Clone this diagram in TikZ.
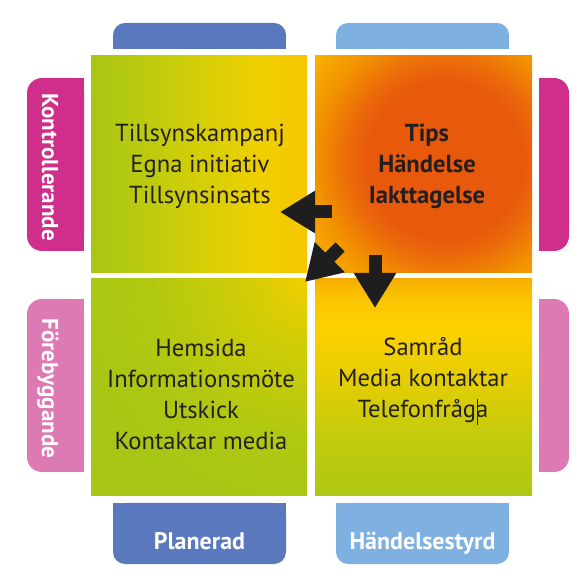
\documentclass[tikz,border=0pt]{standalone}
\usepackage{fontspec}
\setmainfont{PT Sans}
\usetikzlibrary{arrows.meta}
\definecolor{ink}{HTML}{231F20}
\definecolor{arrC}{HTML}{1E1E1E}
\definecolor{planC}{HTML}{5A78BD}
\definecolor{handC}{HTML}{7EB1E1}
\definecolor{kontC}{HTML}{CF2E8B}
\definecolor{foreC}{HTML}{DD7AB3}
\definecolor{gA}{HTML}{A8C614}
\definecolor{gB}{HTML}{BDCB0E}
\definecolor{gC}{HTML}{D4CE07}
\definecolor{yA}{HTML}{EFCF00}
\definecolor{yB}{HTML}{F7C600}
\definecolor{oA}{HTML}{E8590C}
\definecolor{oB}{HTML}{EB6A0A}
\definecolor{oC}{HTML}{F29300}
\definecolor{oD}{HTML}{F7B600}
\definecolor{oE}{HTML}{F8BE00}
\definecolor{yC}{HTML}{FDD000}
\definecolor{yD}{HTML}{F6AE00}
\definecolor{yE}{HTML}{FBC600}
\definecolor{gD}{HTML}{E4CE03}
\definecolor{gE}{HTML}{C6CB0B}
\definecolor{gF}{HTML}{AEC812}
\definecolor{yF}{HTML}{F2CE00}
\definecolor{gG}{HTML}{D0CD06}
\definecolor{gH}{HTML}{B0C811}
\pgfdeclarehorizontalshading{tlsh}{100bp}{color(0bp)=(gA); color(25bp)=(gA); color(38.5bp)=(gB); color(50bp)=(gC); color(64bp)=(yA); color(75bp)=(yB); color(100bp)=(yB)}
\pgfdeclareradialshading{trsh}{\pgfpointorigin}{color(0bp)=(oA); color(9.8bp)=(oA); color(12.2bp)=(oB); color(16.25bp)=(oC); color(21.25bp)=(oD); color(25bp)=(oE); color(50bp)=(oE)}
\pgfdeclareverticalshading{brsh}{100bp}{color(0bp)=(gF); color(25bp)=(gF); color(40.2bp)=(gE); color(51.8bp)=(gD); color(63.3bp)=(yC); color(70.2bp)=(yE); color(75bp)=(yD); color(100bp)=(yD)}
\pgfdeclareradialshading{blsh}{\pgfpointorigin}{color(0bp)=(yF); color(5bp)=(gG); color(12.5bp)=(gH); color(18.75bp)=(gA); color(25bp)=(gA); color(50bp)=(gA)}
\begin{document}
\begin{tikzpicture}[x=1pt,y=-1pt,
  txt/.style={text=ink, align=center, inner sep=0pt, font=\fontsize{24.6}{31}\selectfont},
  txtb/.style={txt, font=\bfseries\fontsize{24.6}{31}\selectfont},
  tabtxt/.style={text=white, inner sep=0pt, font=\bfseries\fontsize{24}{28}\selectfont},
  sidetxt/.style={text=white, inner sep=0pt, font=\bfseries\fontsize{23}{28}\selectfont, rotate=-90},
  arr/.style={draw=arrC, line width=13pt, -{Triangle[length=35pt,width=40pt]}}]
\useasboundingbox (0,0) rectangle (587,585);
% top tabs
\fill[planC, rounded corners=12pt] (113,23) rectangle (286,49);
\fill[planC] (113,37) rectangle (286,49);
\fill[handC, rounded corners=12pt] (336,23) rectangle (509,49);
\fill[handC] (336,37) rectangle (509,49);
% bottom tabs
\fill[planC, rounded corners=12pt] (113,503) rectangle (286,564);
\fill[planC] (113,503) rectangle (286,530);
\fill[handC, rounded corners=12pt] (336,503) rectangle (509,564);
\fill[handC] (336,503) rectangle (509,530);
% left tabs
\fill[kontC, rounded corners=15pt] (27,78) rectangle (84,251);
\fill[kontC] (60,78) rectangle (84,251);
\fill[foreC, rounded corners=15pt] (27,299) rectangle (84,472);
\fill[foreC] (60,299) rectangle (84,472);
% right tabs
\fill[kontC, rounded corners=15pt] (539,78) rectangle (569,251);
\fill[kontC] (539,78) rectangle (552,251);
\fill[foreC, rounded corners=15pt] (539,299) rectangle (569,472);
\fill[foreC] (539,299) rectangle (552,472);
% squares
\shade[shading=tlsh] (91,56) rectangle (307,273);
\begin{scope}
  \clip (315,56) rectangle (532,273);
  \shade[shading=trsh] (445,160) circle (200);
\end{scope}
\begin{scope}
  \clip (91,279) rectangle (307,496);
  \shade[shading=blsh] (307,279) circle (320);
\end{scope}
\shade[shading=brsh] (315,279) rectangle (532,496);
% texts
\node[txt] (tlt) at (200,166) {Tillsynskampanj\\Egna initiativ\\Tillsynsinsats};
\node[txtb] (trt) at (427,166) {Tips\\Händelse\\Iakttagelse};
\node[txt] (blt) at (201,394) {Hemsida\\Informationsmöte\\Utskick\\Kontaktar media};
\node[txt] (brt) at (423,381) {Samråd\\Media kontaktar\\Telefonfråg\rlap{\kern0.5pt\rule[-0.3em]{0.5pt}{1.05em}}a};
\node[tabtxt, anchor=base] (planL) at (199.5,550) {Planerad};
\node[tabtxt, anchor=base] (handL) at (422.5,550) {Händelsestyrd};
\node[sidetxt, anchor=base] (kontL) at (42,167) {Kontrollerande};
\node[sidetxt, anchor=base] (foreL) at (42,388.5) {Förebyggande};
% arrows
\coordinate (a1s) at (332,212); \coordinate (a1e) at (280,212);
\coordinate (a2s) at (340,247); \coordinate (a2e) at (305,282);
\coordinate (a3s) at (375,255); \coordinate (a3e) at (375,308);
\draw[arr] (a1s) -- (a1e);
\draw[arr] (a2s) -- (a2e);
\draw[arr] (a3s) -- (a3e);
\end{tikzpicture}
\end{document}
